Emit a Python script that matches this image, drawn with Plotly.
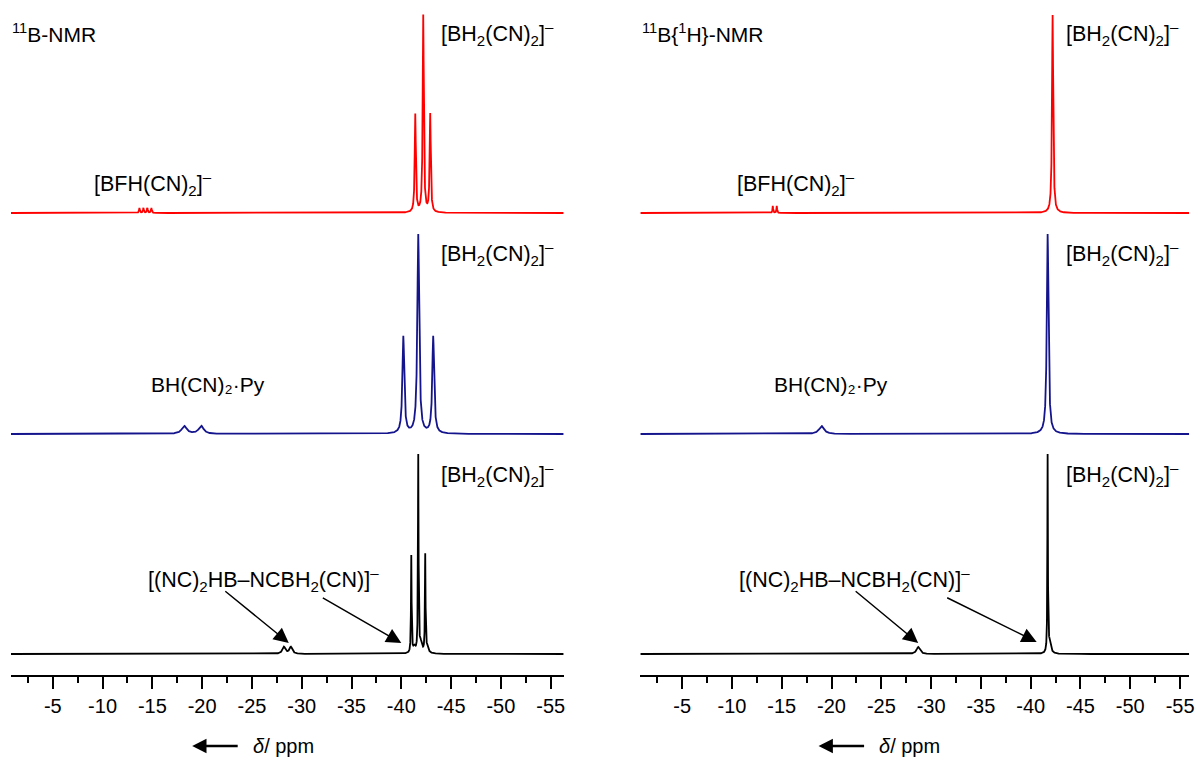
import numpy as np
import plotly.graph_objects as go

W, H = 1204, 762
FONT = "Liberation Sans, Arial, sans-serif"

# ---- axis / tick data ----
left_range = [-0.8, -56.3]
right_range = [-0.8, -55.9]
tick_vals = [-5, -10, -15, -20, -25, -30, -35, -40, -45, -50, -55]
tick_text = ["-5", "-10", "-15", "-20", "-25", "-30", "-35", "-40", "-45", "-50", "-55"]
minor_vals = [-2.5, -7.5, -12.5, -17.5, -22.5, -27.5, -32.5, -37.5, -42.5, -47.5, -52.5]

# ---- peak lists: position (ppm), height, FWHM (ppm) ----
# 11B-NMR (left)
lr_pos = [-41.4, -42.2, -42.9, -13.7, -14.1, -14.5, -14.9]
lr_h = [98, 197, 98, 5, 5, 5, 5]
lr_w = [0.13, 0.13, 0.13, 0.1, 0.1, 0.1, 0.1]

lb_pos = [-40.2, -41.7, -43.2, -18.2, -19.9]
lb_h = [97, 199, 97, 8, 8]
lb_w = [0.22, 0.22, 0.22, 0.6, 0.6]

lk_pos = [-41.0, -41.7, -42.4, -41.3, -41.95, -42.6, -28.2, -28.9]
lk_h = [97, 197, 97, 6, 10, 6, 7, 7]
lk_w = [0.07, 0.07, 0.07, 0.3, 0.3, 0.3, 0.35, 0.35]

# 11B{1H}-NMR (right)
rr_pos = [-42.2, -14.1, -14.5]
rr_h = [198, 7, 7]
rr_w = [0.14, 0.08, 0.08]

rb_pos = [-41.7, -19.0]
rb_h = [200, 8]
rb_w = [0.2, 0.6]

rk_pos = [-41.7, -41.9, -28.7]
rk_h = [199, 11, 7]
rk_w = [0.06, 0.3, 0.4]

colors = {"red": "#ff0000", "blue": "#14148c", "black": "#000000"}

ppm_grid = np.arange(-0.8, -56.31, -0.005)


def spectrum(pos, h, w):
    y = np.zeros_like(ppm_grid)
    for p, a, fw in zip(pos, h, w):
        y += a / (1.0 + (2.0 * (ppm_grid - p) / fw) ** 2)
    return y


def px(x):
    return x / W


def py(y):
    return 1 - y / H


fig = go.Figure()

traces = [
    (lr_pos, lr_h, lr_w, "red", "x", "y"),
    (lb_pos, lb_h, lb_w, "blue", "x", "y2"),
    (lk_pos, lk_h, lk_w, "black", "x", "y3"),
    (rr_pos, rr_h, rr_w, "red", "x2", "y4"),
    (rb_pos, rb_h, rb_w, "blue", "x2", "y5"),
    (rk_pos, rk_h, rk_w, "black", "x2", "y6"),
]
for pos, h, w, c, xa, ya in traces:
    fig.add_trace(go.Scatter(x=ppm_grid, y=spectrum(pos, h, w), mode="lines",
                             line=dict(color=colors[c], width=1.8),
                             xaxis=xa, yaxis=ya, showlegend=False, hoverinfo="skip"))

xcommon = dict(showline=True, linecolor="black", linewidth=2, ticks="outside",
               ticklen=12, tickwidth=2, tickcolor="black", showgrid=False, zeroline=False,
               tickmode="array", tickvals=tick_vals, ticktext=tick_text,
               tickfont=dict(family=FONT, size=20, color="black"),
               minor=dict(tickmode="array", tickvals=minor_vals, ticks="outside",
                          ticklen=6, tickwidth=2, tickcolor="black", showgrid=False))

ycommon = dict(visible=False, showgrid=False, zeroline=False, fixedrange=True)

fig.update_layout(
    width=W, height=H, margin=dict(l=0, r=0, t=0, b=0),
    paper_bgcolor="white", plot_bgcolor="white",
    xaxis=dict(domain=[px(11), px(566)], range=left_range, anchor="y3", **xcommon),
    xaxis2=dict(domain=[px(643), px(1194)], range=right_range, anchor="y6", **xcommon),
    yaxis=dict(domain=[py(215), py(13)], range=[-2, 200], anchor="x", **ycommon),
    yaxis2=dict(domain=[py(436), py(233)], range=[-2, 201], anchor="x", **ycommon),
    yaxis3=dict(domain=[py(675), py(454)], range=[-21, 200], anchor="x", **ycommon),
    yaxis4=dict(domain=[py(215), py(13)], range=[-2, 200], anchor="x2", **ycommon),
    yaxis5=dict(domain=[py(436), py(233)], range=[-2, 201], anchor="x2", **ycommon),
    yaxis6=dict(domain=[py(675), py(454)], range=[-21, 200], anchor="x2", **ycommon),
)

BH2 = "[BH<sub>2</sub>(CN)<sub>2</sub>]<sup>–</sup>"
BFH = "[BFH(CN)<sub>2</sub>]<sup>–</sup>"
PY = "BH(CN)₂·Py"
DIM = "[(NC)<sub>2</sub>HB–NCBH<sub>2</sub>(CN)]<sup>–</sup>"

labels = [
    ("<sup>11</sup>B-NMR", 10, 33, 21),
    (BH2, 441, 33, 21.5), (BFH, 92, 183, 21.5), (BH2, 441, 253, 21.5),
    (PY, 150, 384, 21), (BH2, 441, 474, 21.5),
    (DIM, 147, 579, 21.5),
    ("<sup>11</sup>B{<sup>1</sup>H}-NMR", 643, 33, 21),
    (BH2, 1068, 33, 21.5), (BFH, 738, 183, 21.5), (BH2, 1068, 253, 21.5),
    (PY, 775, 384, 21), (BH2, 1068, 474, 21.5),
    (DIM, 740, 579, 21.5),
]
for txt, x, y, fs in labels:
    fig.add_annotation(text=txt, x=px(x), y=py(y), xref="paper", yref="paper",
                       showarrow=False, xanchor="left", yanchor="middle",
                       font=dict(family=FONT, size=fs, color="black"))

# arrows pointing at the dimer signals (tip in data coords)
arrows = [
    ("x", "y3", -28.7, 11, -65, -53),
    ("x", "y3", -40.0, 11, -80, -46),
    ("x2", "y6", -28.7, 11, -64, -53),
    ("x2", "y6", -40.6, 12, -91, -45),
]
for xr, yr, x, y, ax, ay in arrows:
    fig.add_annotation(text="", x=x, y=y, xref=xr, yref=yr, ax=ax, ay=ay,
                       showarrow=True, arrowhead=2, arrowsize=2.0, arrowwidth=1.5,
                       arrowcolor="black")

# axis titles: "<-  δ / ppm"
for ax_left, txt_left in [(193, 252), (822, 881)]:
    fig.add_annotation(text="", x=px(ax_left), y=py(746), xref="paper", yref="paper",
                       ax=47, ay=0, showarrow=True, arrowhead=2, arrowsize=1.1,
                       arrowwidth=2.6, arrowcolor="black")
    fig.add_annotation(text="<i>δ</i>/ ppm", x=px(txt_left), y=py(746), xref="paper",
                       yref="paper", showarrow=False, xanchor="left", yanchor="middle",
                       font=dict(family=FONT, size=20, color="black"))

fig.write_html("out.html", config={"displayModeBar": False},
               post_script="document.body.style.margin='0px';"
                           "document.body.style.overflow='hidden';")
